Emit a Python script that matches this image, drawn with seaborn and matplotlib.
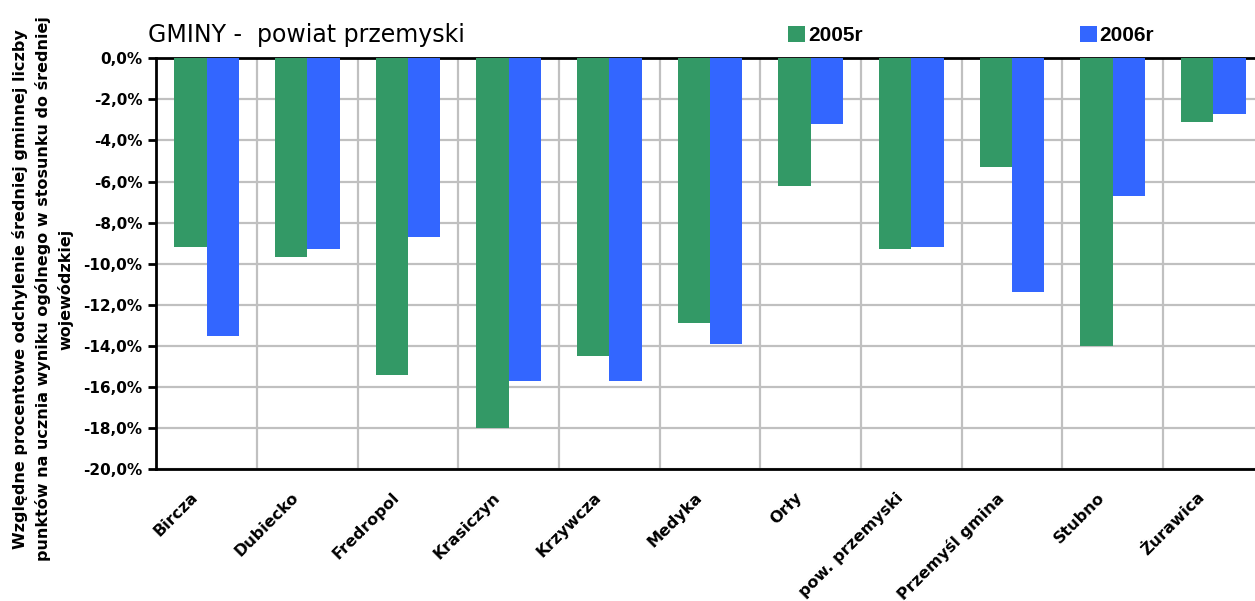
import pandas as pd
import numpy as np
import seaborn as sns
import matplotlib
matplotlib.use('Agg')
import matplotlib.pyplot as plt
import matplotlib.transforms as mtransforms
from matplotlib.ticker import MultipleLocator, FuncFormatter

sns.set_style('white')
plt.rcParams['font.family'] = ['DejaVu Sans']
plt.rcParams['text.color'] = 'black'
plt.rcParams['axes.labelcolor'] = 'black'
plt.rcParams['xtick.color'] = 'black'
plt.rcParams['ytick.color'] = 'black'

# data (percent)
gminy = ['Bircza', 'Dubiecko', 'Fredropol', 'Krasiczyn', 'Krzywcza', 'Medyka',
         'Orły', 'pow. przemyski', 'Przemyśl gmina', 'Stubno', 'Żurawica']
vals_2005 = [-9.2, -9.7, -15.4, -18.0, -14.5, -12.9, -6.2, -9.3, -5.3, -14.0, -3.1]
vals_2006 = [-13.5, -9.3, -8.7, -15.7, -15.7, -13.9, -3.2, -9.2, -11.4, -6.7, -2.7]
years = ['2005r', '2006r']
colors = ['#339966', '#3366FF']

df = pd.DataFrame({'gmina': gminy * 2,
                   'rok': [years[0]] * len(gminy) + [years[1]] * len(gminy),
                   'odchylenie': vals_2005 + vals_2006})

fig = plt.figure(figsize=(12.55, 6.01), dpi=100)
ax = fig.add_axes([156.3 / 1255, 1 - 469 / 601, 1107.4 / 1255, 410.7 / 601])

sns.barplot(data=df, x='gmina', y='odchylenie', hue='rok', palette=colors,
            width=0.64, saturation=1, ax=ax, legend=True, zorder=3,
            linewidth=0, edgecolor='none')

ax.set_ylim(-20, 0)
ax.set_xlim(-0.5, len(gminy) - 0.5)
ax.yaxis.set_major_locator(MultipleLocator(2))
ax.yaxis.set_major_formatter(FuncFormatter(lambda v, p: f'{v:.1f}%'.replace('.', ',')))
ax.set_xticks(np.arange(len(gminy)) + 0.5, minor=True)
ax.grid(axis='y', which='major', color='#C0C0C0', lw=1.6, zorder=0)
ax.grid(axis='x', which='minor', color='#C0C0C0', lw=1.6, zorder=0)
ax.grid(axis='x', which='major', visible=False)
ax.set_axisbelow(True)

for s in ['left', 'top', 'bottom']:
    ax.spines[s].set_color('black')
    ax.spines[s].set_linewidth(2)
ax.spines['right'].set_visible(False)

ax.tick_params(axis='y', which='major', left=True, length=6, width=2, color='black',
               labelsize=11, pad=4, labelcolor='black')
ax.tick_params(axis='x', which='both', bottom=False, top=False, length=0)
for t in ax.get_yticklabels():
    t.set_fontweight('bold')

ax.set_xticks(np.arange(len(gminy)))
ax.set_xticklabels(gminy, rotation=45, ha='right', rotation_mode='anchor',
                   fontsize=11.5, fontweight='bold', color='black')
ax.tick_params(axis='x', which='major', pad=15)
shift = mtransforms.ScaledTranslation(-16 / 100, 0, fig.dpi_scale_trans)
for t in ax.get_xticklabels():
    t.set_transform(t.get_transform() + shift)
ax.set_xlabel('')

ax.set_ylabel('Względne procentowe odchylenie średniej gminnej liczby\n'
              'punktów na ucznia wyniku ogólnego w stosunku do średniej\n'
              'wojewódzkiej', fontsize=11.5, fontweight='bold', linespacing=1.5,
              color='black')
ax.yaxis.label.set_va('center')
ax.yaxis.set_label_coords((43 - 156.3) / 1107.4, (469 - 289) / 410.7)

fig.text(148 / 1255, 1 - 42 / 601, 'GMINY -  powiat przemyski', fontsize=17,
         va='baseline', color='black')

leg = ax.legend(loc='upper left', bbox_to_anchor=(788 / 1255, 1 - 26 / 601),
                bbox_transform=fig.transFigure, ncol=2, frameon=False,
                borderpad=0, borderaxespad=0, handlelength=0.82, handleheight=0.82,
                handletextpad=0.15, columnspacing=10.4,
                prop={'family': 'Liberation Sans', 'weight': 'bold', 'size': 15})
for t in leg.get_texts():
    t.set_color('black')

fig.savefig('out.png', dpi=100)
